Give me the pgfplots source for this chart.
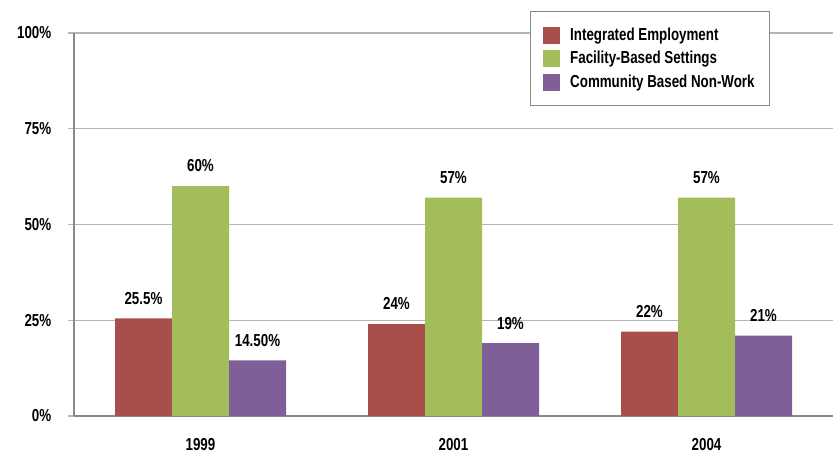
\documentclass[border=0pt]{standalone}
\usepackage{pgfplots}
\pgfplotsset{compat=1.18}
\usepackage{fontspec}
\setmainfont{Liberation Sans}[FakeStretch=0.77]
\definecolor{cred}{HTML}{A84F4C}
\definecolor{cgreen}{HTML}{A2BD59}
\definecolor{cpurple}{HTML}{7F5F98}
\definecolor{gridc}{HTML}{B5B5B5}
\definecolor{axc}{HTML}{8A8A8A}
\begin{document}
\fontsize{13}{15.6}\selectfont\bfseries
\begin{tikzpicture}
\begin{axis}[
  scale only axis,
  width=569.25pt, height=287.25pt,
  xmin=-0.5, xmax=2.5, ymin=0, ymax=100,
  ybar=0pt, bar width=42.75pt,
  axis x line*=bottom, axis y line*=left,
  axis line style={draw=axc, line width=0.9pt},
  xtick={0,1,2}, xticklabels={1999,2001,2004},
  x tick label style={yshift=-8pt},
  major x tick style={draw=none},
  extra x ticks={-0.5,0.5,1.5,2.5},
  extra x tick labels={},
  extra x tick style={major tick length=4.5pt, tick align=outside, tick style={draw=axc, line width=0.9pt}},
  ytick={0,25,50,75,100},
  yticklabels={0\%,25\%,50\%,75\%,100\%},
  ymajorgrids,
  grid style={draw=gridc, line width=1.1pt},
  y tick label style={xshift=-8pt},
  major y tick style={draw=gridc, line width=1.1pt},
  tick align=outside, major tick length=4.5pt,
  point meta=explicit symbolic,
  nodes near coords={\pgfplotspointmeta},
  every node near coord/.append style={yshift=6pt},
  legend style={at={(0.6008,1.0574)}, anchor=north west, draw=axc, line width=0.8pt,
    fill=white, inner xsep=9.5pt, inner ysep=10pt, row sep=2.25pt, legend cell align=left,
    /tikz/every odd column/.append style={column sep=5.5pt}},
  legend image code/.code={\fill[#1] (0pt,-6.4pt) rectangle (12.75pt,6.4pt);},
]
\addplot[fill=cred, draw=none] coordinates {(0,25.5) [25.5\%] (1,24) [24\%] (2,22) [22\%]};
\addplot[fill=cgreen, draw=none] coordinates {(0,60) [60\%] (1,57) [57\%] (2,57) [57\%]};
\addplot[fill=cpurple, draw=none] coordinates {(0,14.5) [14.50\%] (1,19) [19\%] (2,21) [21\%]};
\legend{Integrated Employment, Facility-Based Settings, Community Based Non-Work}
\end{axis}
\pgfresetboundingbox
\path ([shift={(-55.5pt,-29.25pt)}]current axis.south west) rectangle ([shift={(1.5pt,24.75pt)}]current axis.north east);
\end{tikzpicture}
\end{document}
